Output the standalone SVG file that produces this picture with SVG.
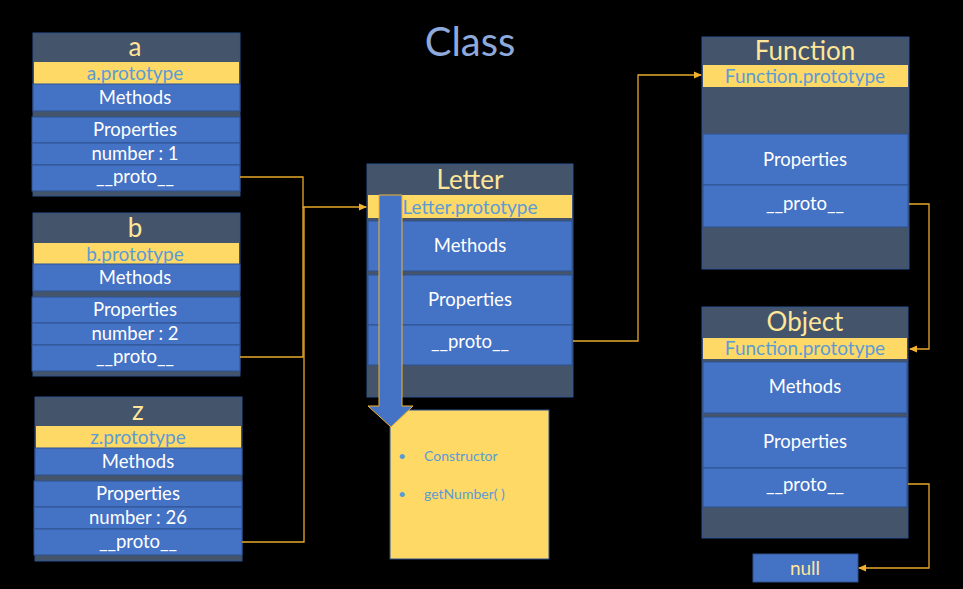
<svg xmlns="http://www.w3.org/2000/svg" width="963" height="589" viewBox="0 0 963 589">
<defs>
<style>
.dark{fill:#44546A;stroke:#2F528F;stroke-width:1}
.yel{fill:#FFD966}
.blue{fill:#4472C4;stroke:#2F528F;stroke-width:1}
.t{font-family:Lato,"Open Sans","DejaVu Sans",sans-serif;text-anchor:middle}
.w{fill:#FFFFFF;font-size:18.5px}
.p{fill:#5B9BD5;font-size:19px}
.h{fill:#FFE699;font-size:26px}
.con{fill:none;stroke:#E8A92A;stroke-width:1.3}
</style>
<marker id="ah" markerWidth="8" markerHeight="8" refX="7" refY="4" orient="auto" markerUnits="userSpaceOnUse">
<path d="M0,0.5 L8,4 L0,7.5 Z" fill="#F2B230"/>
</marker>
</defs>
<rect width="963" height="589" fill="#000000"/>
<text class="t" x="470" y="56" font-size="40" fill="#8EA9DB">Class</text>

<g id="node-a">
<rect class="dark" x="33" y="33" width="207" height="163"/>
<rect class="yel" x="34" y="62" width="205" height="22"/>
<rect class="blue" x="33" y="84" width="207" height="27"/>
<rect class="blue" x="32" y="117" width="208" height="26"/>
<rect class="blue" x="32" y="143" width="208" height="22"/>
<rect class="blue" x="32" y="165" width="208" height="26"/>
<text class="t h" x="135" y="56">a</text>
<text class="t p" x="135" y="80">a.prototype</text>
<text class="t w" x="135" y="104">Methods</text>
<text class="t w" x="135" y="136">Properties</text>
<text class="t w" x="135" y="160">number : 1</text>
<text class="t w" x="135" y="183">__proto__</text>
</g>

<g id="node-b">
<rect class="dark" x="33" y="213" width="207" height="163"/>
<rect class="yel" x="34" y="243" width="205" height="21"/>
<rect class="blue" x="33" y="264" width="207" height="27"/>
<rect class="blue" x="32" y="297" width="208" height="26"/>
<rect class="blue" x="32" y="323" width="208" height="22"/>
<rect class="blue" x="32" y="345" width="208" height="26"/>
<text class="t h" x="135" y="237">b</text>
<text class="t p" x="135" y="261">b.prototype</text>
<text class="t w" x="135" y="284">Methods</text>
<text class="t w" x="135" y="316">Properties</text>
<text class="t w" x="135" y="340">number : 2</text>
<text class="t w" x="135" y="363">__proto__</text>
</g>

<g id="node-z">
<rect class="dark" x="35" y="397" width="207" height="164"/>
<rect class="yel" x="36" y="426" width="205" height="22"/>
<rect class="blue" x="35" y="448" width="207" height="27"/>
<rect class="blue" x="34" y="481" width="208" height="26"/>
<rect class="blue" x="34" y="507" width="208" height="22"/>
<rect class="blue" x="34" y="529" width="208" height="26"/>
<text class="t h" x="138" y="420">z</text>
<text class="t p" x="138" y="444">z.prototype</text>
<text class="t w" x="138" y="468">Methods</text>
<text class="t w" x="138" y="500">Properties</text>
<text class="t w" x="138" y="524">number : 26</text>
<text class="t w" x="138" y="548">__proto__</text>
</g>

<g id="node-letter">
<rect class="dark" x="367" y="164" width="206" height="233"/>
<rect class="yel" x="368" y="195" width="204" height="23"/>
<rect class="blue" x="368" y="221" width="204" height="50"/>
<rect class="blue" x="368" y="275" width="204" height="50"/>
<rect class="blue" x="368" y="325" width="204" height="40"/>
<text class="t h" x="470" y="189" font-size="28">Letter</text>
<text class="t p" x="470" y="214">Letter.prototype</text>
<text class="t w" x="470" y="252">Methods</text>
<text class="t w" x="470" y="306">Properties</text>
<text class="t w" x="470" y="348">__proto__</text>
</g>

<g id="node-note">
<rect x="390" y="410" width="159" height="149" fill="#FFD966" stroke="#2F528F" stroke-width="1"/>
<g font-family="Lato,'Open Sans','DejaVu Sans',sans-serif" font-size="14" fill="#5B9BD5">
<text x="398" y="461">•</text>
<text x="424" y="461">Constructor</text>
<text x="398" y="499">•</text>
<text x="424" y="499">getNumber( )</text>
</g>
</g>

<g id="node-function">
<rect class="dark" x="702" y="37" width="207" height="232"/>
<rect class="yel" x="703" y="65" width="205" height="22"/>
<rect class="blue" x="703" y="134" width="205" height="51"/>
<rect class="blue" x="703" y="185" width="205" height="42"/>
<text class="t h" x="805" y="60" font-size="26">Function</text>
<text class="t p" x="805" y="83">Function.prototype</text>
<text class="t w" x="805" y="166">Properties</text>
<text class="t w" x="805" y="210">__proto__</text>
</g>

<g id="node-object">
<rect class="dark" x="702" y="307" width="206" height="231"/>
<rect class="yel" x="703" y="338" width="204" height="21"/>
<rect class="blue" x="703" y="362" width="204" height="51"/>
<rect class="blue" x="703" y="417" width="204" height="51"/>
<rect class="blue" x="703" y="468" width="204" height="39"/>
<text class="t h" x="805" y="331" font-size="26">Object</text>
<text class="t p" x="805" y="355">Function.prototype</text>
<text class="t w" x="805" y="393">Methods</text>
<text class="t w" x="805" y="448">Properties</text>
<text class="t w" x="805" y="491">__proto__</text>
</g>

<g id="node-null">
<rect class="blue" x="753" y="554" width="105" height="28"/>
<text class="t" x="805" y="575" font-size="19" fill="#FFE699">null</text>
</g>

<g id="connectors">
<polyline class="con" points="240,177 303,177 303,207 366,207" marker-end="url(#ah)"/>
<polyline class="con" points="240,357 303,357 303,207"/>
<polyline class="con" points="242,542 304,542 304,207"/>
<polyline class="con" points="573,341 638,341 638,75 701,75" marker-end="url(#ah)"/>
<polyline class="con" points="909,204 929,204 929,349 910,349" marker-end="url(#ah)"/>
<polyline class="con" points="908,484 929,484 929,568 859,568" marker-end="url(#ah)"/>
<polygon points="379,195 402,195 402,406 413,406 391,427 368,406 379,406" fill="#4472C4" stroke="#F2B230" stroke-width="1"/>
</g>
</svg>
